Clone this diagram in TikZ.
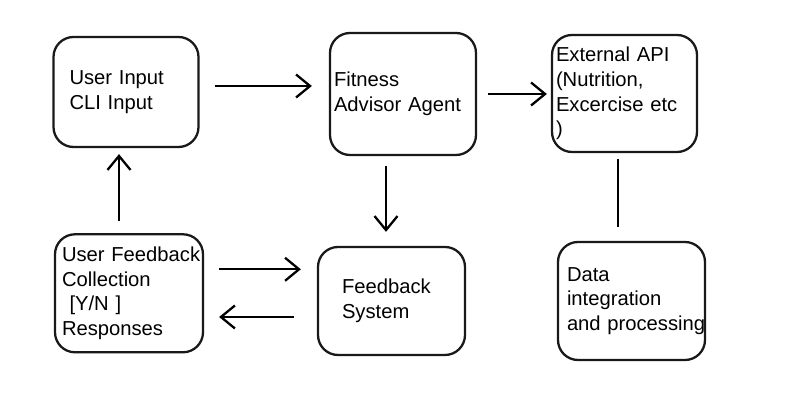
\documentclass[tikz,border=0pt]{standalone}
\usepackage{fontspec}
\setmainfont{Liberation Sans}
\usetikzlibrary{positioning,arrows.meta}
\hyphenpenalty=10000
\exhyphenpenalty=10000

\begin{document}
\begin{tikzpicture}
	\tikzstyle{main}=[rectangle, rounded corners=4mm, line width=1.3pt, draw=black!90, align=left, font=\fontsize{11.5}{14}\selectfont]
\tikzstyle{connect}=[-{Straight Barb[length=2.8mm,width=4.6mm]}, line width=1.3pt]
\tikzstyle{plain}=[-, line width=1.6pt]
  \useasboundingbox (0,0) rectangle (15.98,-8.32);
  \fill[white] (0,0) rectangle (15.98,-8.32);
  \node[main, text width=2.26cm, inner xsep=3.2mm, minimum height=2.2cm] (uin) at (2.52,-1.84) {User Input\\CLI Input};
  \node[main, text width=2.76cm, inner xsep=0.8mm, minimum height=2.44cm] (agent) at (8.06,-1.88) {Fitness\\Advisor~Agent};
  \node[main, text width=2.74cm, inner xsep=0.8mm, minimum height=2.34cm] (api) at (12.49,-1.87) {External~API\\(Nutrition,\\Excercise~etc\\)};
  \node[main, text width=2.68cm, inner xsep=1.4mm, minimum height=2.36cm] (ufb) [below=1.7cm of uin, xshift=0.6mm] {User~Feedback\\Collection\\\hspace*{1.5mm}{[}Y/N {]}\\Responses};
  \node[main, text width=1.98cm, inner xsep=4.8mm, minimum height=2.16cm] (fbsys) at (7.83,-6.02) {Feedback\\System};
  \node[main, text width=2.58cm, inner xsep=1.8mm, minimum height=2.36cm] (data) at (12.63,-6.02) {Data\\integration\\and~processing};
  \path 
        ([yshift=1.2mm]uin.east) edge [connect, shorten <=3mm, shorten >=3.4mm] ([yshift=1.2mm]uin.east -| agent.west)
        (agent.east) edge [connect, shorten <=2.2mm, shorten >=0.8mm] (agent.east -| api.west)
        ([xshift=-3.4mm]agent.south) edge [connect, shorten <=2mm, shorten >=2.8mm] ([xshift=-3.4mm]agent.south |- fbsys.north)
        ([xshift=-1.3mm]api.south) edge [plain, shorten <=1.2mm, shorten >=2.8mm] ([xshift=-1.3mm]api.south |- data.north)
        ([xshift=-2mm]ufb.north) edge [connect, shorten <=2.4mm, shorten >=1.2mm] ([xshift=-2mm]ufb.north |- uin.south)
        ([yshift=4.8mm]ufb.east) edge [connect, shorten <=3mm, shorten >=3.2mm] ([yshift=4.8mm]ufb.east -| fbsys.west)
        ([yshift=-3.2mm]fbsys.west) edge [connect, shorten <=4.6mm, shorten >=3mm] ([yshift=-3.2mm]fbsys.west -| ufb.east);
\end{tikzpicture}
\end{document}
